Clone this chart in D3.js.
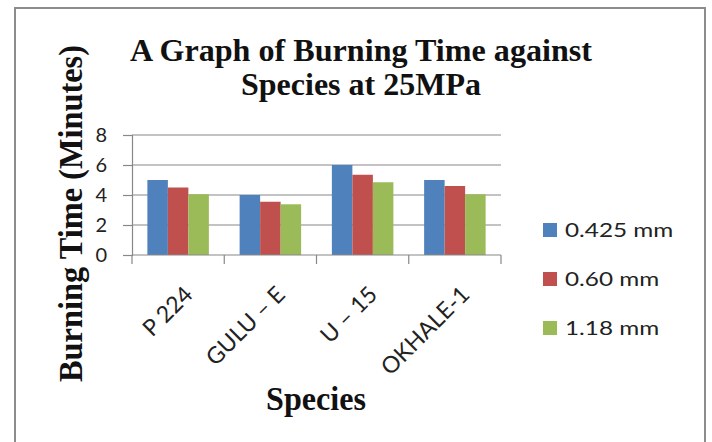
<!DOCTYPE html>
<html><head><meta charset="utf-8">
<script src="https://cdn.jsdelivr.net/npm/d3@7"></script>
<style>html,body{margin:0;padding:0;background:#fff;}svg{display:block;}</style>
</head><body>
<script>
const categories = ["P 224", "GULU – E", "U – 15", "OKHALE-1"];
const seriesNames = ["0.425 mm", "0.60 mm", "1.18 mm"];
const series0425 = [5.0, 4.0, 6.0, 5.0];
const series060 = [4.5, 3.55, 5.35, 4.6];
const series118 = [4.05, 3.38, 4.85, 4.05];
const yTicks = [0, 2, 4, 6, 8];
const colors = ["#4F81BD", "#C0504D", "#9BBB59"];

const allSeries = [series0425, series060, series118];
const W = 712, H = 442;
const sansFont = "Lato, 'Open Sans', sans-serif";
const serifFont = "'Liberation Serif', 'Times New Roman', serif";
const svg = d3.select("body").append("svg").attr("width", W).attr("height", H);
svg.append("rect").attr("width", W).attr("height", H).attr("fill", "#fff");

// outer border
svg.append("rect").attr("x", 15).attr("y", 8).attr("width", 690).attr("height", 460)
  .attr("fill", "none").attr("stroke", "#8c8c8c").attr("stroke-width", 2);

const plotL = 132, plotR = 501, plotT = 135, plotB = 255;
const x0 = d3.scaleBand().domain(categories).range([plotL, plotR]).paddingInner(0).paddingOuter(0);
const bw = x0.bandwidth();
const groupW = bw / 1.5;
const x1 = d3.scaleBand().domain(d3.range(seriesNames.length)).range([(bw - groupW) / 2, (bw + groupW) / 2]);
const y = d3.scaleLinear().domain([0, 8]).range([plotB, plotT]);

// gridlines
svg.append("g").selectAll("line").data(yTicks.filter(d => d > 0)).join("line")
  .attr("x1", plotL).attr("x2", plotR).attr("y1", d => y(d)).attr("y2", d => y(d))
  .attr("stroke", "#888").attr("stroke-width", 1.2);

// bars
const g = svg.append("g");
categories.forEach((c, ci) => {
  allSeries.forEach((s, si) => {
    g.append("rect")
      .attr("x", x0(c) + x1(si)).attr("width", x1.bandwidth())
      .attr("y", y(s[ci])).attr("height", y(0) - y(s[ci]))
      .attr("fill", colors[si]);
  });
});

// y axis
const yAxis = svg.append("g").attr("transform", `translate(${plotL},0)`)
  .call(d3.axisLeft(y).tickValues(yTicks).tickSize(9).tickPadding(16).tickFormat(d3.format("d")));
yAxis.selectAll("path").attr("stroke", "#888").attr("stroke-width", 1.2);
yAxis.selectAll("line").attr("stroke", "#888").attr("stroke-width", 1.2);
yAxis.selectAll("text").attr("font-family", sansFont).attr("font-size", 20).attr("fill", "#222");

// x axis line and ticks at category boundaries
svg.append("line").attr("x1", plotL).attr("x2", plotR).attr("y1", plotB).attr("y2", plotB)
  .attr("stroke", "#888").attr("stroke-width", 1.2);
const bounds = categories.map(c => x0(c)).concat([x0.range()[1]]);
svg.append("g").selectAll("line").data(bounds).join("line")
  .attr("x1", d => d).attr("x2", d => d).attr("y1", plotB).attr("y2", plotB + 9)
  .attr("stroke", "#888").attr("stroke-width", 1.2);

// category labels rotated
svg.append("g").selectAll("text").data(categories).join("text")
  .attr("transform", d => `translate(${x0(d) + bw / 2 + 16},${plotB + 41}) rotate(-45)`)
  .attr("text-anchor", "end")
  .attr("font-family", sansFont).attr("font-size", 23).attr("fill", "#222")
  .text(d => d);

// title
const title = svg.append("g").attr("font-family", serifFont)
  .attr("font-weight", "bold").attr("font-size", 31).attr("fill", "#111");
title.append("text").attr("x", 130).attr("y", 61).attr("textLength", 462).attr("lengthAdjust", "spacingAndGlyphs")
  .text("A Graph of Burning Time against");
title.append("text").attr("x", 241).attr("y", 95).attr("textLength", 240).attr("lengthAdjust", "spacingAndGlyphs")
  .text("Species at 25MPa");

// y axis title
svg.append("text").attr("transform", "translate(82,382) rotate(-90)")
  .attr("font-family", serifFont).attr("font-weight", "bold")
  .attr("font-size", 34).attr("fill", "#111")
  .attr("textLength", 337).attr("lengthAdjust", "spacingAndGlyphs")
  .text("Burning Time (Minutes)");

// x axis title
svg.append("text").attr("x", 266).attr("y", 410)
  .attr("font-family", serifFont).attr("font-weight", "bold")
  .attr("font-size", 33).attr("fill", "#111")
  .attr("textLength", 100).attr("lengthAdjust", "spacingAndGlyphs")
  .text("Species");

// legend
const leg = svg.append("g").selectAll("g").data(seriesNames).join("g")
  .attr("transform", (d, i) => `translate(543,${230 + i * 49})`);
leg.append("rect").attr("x", 0).attr("y", -7).attr("width", 14).attr("height", 14)
  .attr("fill", (d, i) => colors[i]);
leg.append("text").attr("transform", "translate(22,7) scale(1.28,1)")
  .attr("font-family", sansFont).attr("font-size", 19).attr("fill", "#222")
  .text(d => d);
</script>
</body></html>
